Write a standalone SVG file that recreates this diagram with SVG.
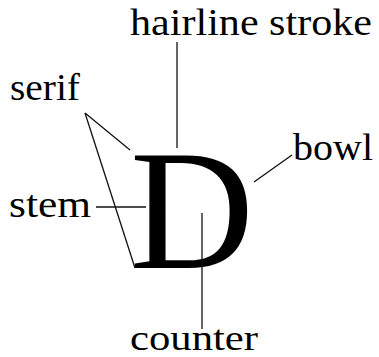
<svg xmlns="http://www.w3.org/2000/svg" width="379" height="357" viewBox="0 0 379 357">
<style>
.lbl{font-family:"Liberation Serif","Times New Roman",serif;font-size:38px;fill:#000}
.big{font-family:"Liberation Serif","Times New Roman",serif;font-size:172px;fill:#000}
.ln{stroke:#111;stroke-width:1.3;fill:none}
</style>
<rect width="379" height="357" fill="#fff"/>
<g id="letter"><text class="big" x="130" y="268" textLength="124" lengthAdjust="spacingAndGlyphs">D</text></g>
<g id="connectors">
<line class="ln" x1="177" y1="42" x2="177" y2="148"/>
<line class="ln" x1="85" y1="113" x2="130" y2="150"/>
<line class="ln" x1="85" y1="113" x2="135" y2="268"/>
<line class="ln" x1="292" y1="155" x2="254" y2="182"/>
<line class="ln" x1="96" y1="207" x2="146" y2="207"/>
<line class="ln" x1="202" y1="213" x2="202" y2="329"/>
</g>
<g id="hairline"><text class="lbl" x="130" y="35" textLength="242" lengthAdjust="spacingAndGlyphs">hairline stroke</text></g>
<g id="serif"><text class="lbl" x="10" y="100" textLength="70" lengthAdjust="spacingAndGlyphs">serif</text></g>
<g id="bowl"><text class="lbl" x="293" y="160" textLength="80" lengthAdjust="spacingAndGlyphs">bowl</text></g>
<g id="stem"><text class="lbl" x="9" y="217" textLength="82" lengthAdjust="spacingAndGlyphs">stem</text></g>
<g id="counter"><text class="lbl" x="130" y="350" style="font-size:35px" textLength="128" lengthAdjust="spacingAndGlyphs">counter</text></g>
</svg>
